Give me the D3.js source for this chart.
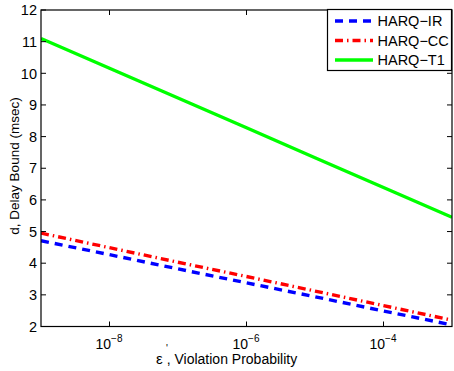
<!DOCTYPE html>
<html><head><meta charset="utf-8">
<script src="https://cdn.jsdelivr.net/npm/d3@7"></script>
<style>body{margin:0;background:#fff}svg{display:block;font-family:"Liberation Sans",Arial,sans-serif}</style>
</head><body><svg id="c" width="454" height="371"></svg>
<script>
const xValues = [1e-9,1e-8,1e-7,1e-6,1e-5,1e-4,1e-3];
const harqIR = [4.71,4.27,3.82,3.38,2.94,2.49,2.05];
const harqCC = [4.95,4.49,4.03,3.58,3.12,2.66,2.2];
const harqT1 = [11.1,10.16,9.22,8.28,7.33,6.39,5.45];
const seriesNames = ["HARQ\u2212IR","HARQ\u2212CC","HARQ\u2212T1"];
const xTicks = [1e-8,1e-6,1e-4];
const xTickExp = ["\u22128","\u22126","\u22124"];
const yTicks = [2,3,4,5,6,7,8,9,10,11,12];

const svg = d3.select("#c");
const L=41,R=452,T=10,B=326.5;
const x = d3.scaleLog().domain([1e-9,1e-3]).range([L,R]);
const y = d3.scaleLinear().domain([2,12]).range([B,T]);

const series = [
 {name:seriesNames[0], vals:harqIR, color:"#0000ff", dash:"8,6"},
 {name:seriesNames[1], vals:harqCC, color:"#ff0000", dash:"8,4,1.5,4"},
 {name:seriesNames[2], vals:harqT1, color:"#00ff00", dash:null}
];
svg.append("clipPath").attr("id","cp").append("rect").attr("x",L).attr("y",T).attr("width",R-L).attr("height",B-T);
const line = d3.line().x((d,i)=>x(xValues[i])).y(d=>y(d));
series.forEach(s=>{
  svg.append("path").attr("d",line(s.vals)).attr("fill","none").attr("stroke",s.color)
    .attr("stroke-width",3.4).attr("stroke-dasharray",s.dash).attr("clip-path","url(#cp)");
});

// axes box
svg.append("rect").attr("x",L).attr("y",T).attr("width",R-L).attr("height",B-T).attr("fill","none").attr("stroke","#000").attr("stroke-width",1.2);
const tl=5;
yTicks.forEach(v=>{
  const yy=y(v);
  svg.append("line").attr("x1",L).attr("x2",L+tl).attr("y1",yy).attr("y2",yy).attr("stroke","#000");
  svg.append("line").attr("x1",R).attr("x2",R-tl).attr("y1",yy).attr("y2",yy).attr("stroke","#000");
  svg.append("text").attr("x",37).attr("y",yy).attr("dy","0.36em").attr("text-anchor","end").attr("font-size",14.5).text(v);
});
xTicks.forEach((v,i)=>{
  const xx=x(v);
  svg.append("line").attr("x1",xx).attr("x2",xx).attr("y1",B).attr("y2",B-tl).attr("stroke","#000");
  svg.append("line").attr("x1",xx).attr("x2",xx).attr("y1",T).attr("y2",T+tl).attr("stroke","#000");
  const t=svg.append("text").attr("x",xx-14).attr("y",349).attr("font-size",14);
  t.append("tspan").text("10");
  t.append("tspan").attr("dy",-7).attr("font-size",10).text(xTickExp[i]);
});

// axis titles
const xt=svg.append("text").attr("x",156).attr("y",364).attr("font-size",14);
xt.append("tspan").attr("font-size",15).text("\u03b5");
xt.append("tspan").attr("dx",4).text(", Violation Probability");
svg.append("text").attr("x",166).attr("y",352).attr("font-size",10).text("'");
svg.append("text").attr("transform","translate(18.5,166) rotate(-90)").attr("text-anchor","middle").attr("font-size",13.5).text("d, Delay Bound (msec)");

// legend
const lg=svg.append("g");
lg.append("rect").attr("x",327.5).attr("y",9.5).attr("width",124).attr("height",61).attr("fill","#fff").attr("stroke","#000").attr("stroke-width",1.2);
series.forEach((s,i)=>{
  const yy=21+i*19.5;
  lg.append("line").attr("x1",335).attr("x2",373).attr("y1",yy).attr("y2",yy).attr("stroke",s.color).attr("stroke-width",3.4).attr("stroke-dasharray",s.dash);
  lg.append("text").attr("x",377.5).attr("y",yy).attr("dy","0.36em").attr("font-size",14.5).text(s.name);
});
</script></body></html>
